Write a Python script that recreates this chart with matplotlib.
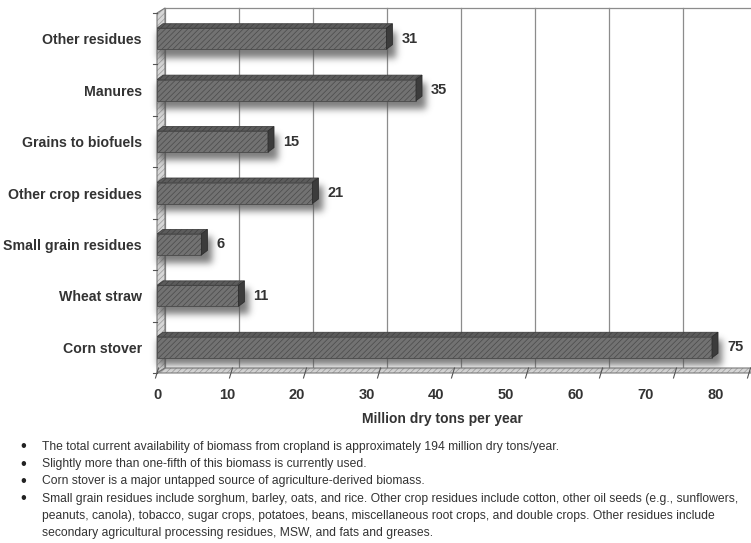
import numpy as np
import matplotlib.pyplot as plt
from matplotlib.patches import Polygon

# Biomass available from cropland, million dry tons per year
categories = ['Corn stover', 'Wheat straw', 'Small grain residues', 'Other crop residues',
              'Grains to biofuels', 'Manures', 'Other residues']
tons = [75, 11, 6, 21, 15, 35, 31]
ticks = [0, 10, 20, 30, 40, 50, 60, 70, 80]

notes = [
    ['The total current availability of biomass from cropland is approximately 194 million dry tons/year.'],
    ['Slightly more than one-fifth of this biomass is currently used.'],
    ['Corn stover is a major untapped source of agriculture-derived biomass.'],
    ['Small grain residues include sorghum, barley, oats, and rice. Other crop residues include cotton, '
     'other oil seeds (e.g., sunflowers,',
     'peanuts, canola), tobacco, sugar crops, potatoes, beans, miscellaneous root crops, and double crops. '
     'Other residues include',
     'secondary agricultural processing residues, MSW, and fats and greases.'],
]

plt.rcParams['font.family'] = ['Liberation Sans', 'DejaVu Sans']
plt.rcParams['hatch.linewidth'] = 0.5

W, H = 751, 543
fig = plt.figure(figsize=(W / 100, H / 100), dpi=100)
ax = fig.add_axes([157 / W, 170 / H, 594 / W, 360 / H])
xmax = 594 / 7.4
px = xmax / 594          # data units per pixel, x
py = 7 / 360             # data units per pixel, y

# depth of the walls and of the bars
dxw, dyw = 8 * px, 5 * py
dxb, dyb = 6 * px, 4.5 * py
bh = 21 * py
ypos = np.arange(len(categories))

# back wall with gridlines
for t in ticks:
    ax.plot([t + dxw, t + dxw], [-0.5 + dyw, 6.5 + dyw], color='#8c8c8c', lw=0.9,
            zorder=1, clip_on=False)
ax.plot([dxw, xmax + 1], [6.5 + dyw, 6.5 + dyw], color='#8c8c8c', lw=0.9, zorder=1, clip_on=False)

# side wall and floor
wall = [(0, -0.5), (0, 6.5), (dxw, 6.5 + dyw), (dxw, -0.5 + dyw)]
floor = [(0, -0.5), (xmax + 1, -0.5), (xmax + 1, -0.5 + dyw), (dxw, -0.5 + dyw)]
for pts in (wall, floor):
    ax.add_patch(Polygon(pts, closed=True, facecolor='#d6d6d6', edgecolor='none', zorder=1.2,
                         clip_on=False))
    ax.add_patch(Polygon(pts, closed=True, fill=False, hatch='//////', edgecolor='#9a9a9a', lw=0,
                         zorder=1.3, clip_on=False))
    ax.add_patch(Polygon(pts, closed=True, fill=False, edgecolor='#7a7a7a', lw=0.8, zorder=1.4,
                         clip_on=False))

# tick marks on the floor edge and category separators on the wall
for t in ticks:
    ax.plot([t + 1.5 * px, t - 1.5 * px], [-0.5 + dyw, -0.5 - 5 * py], color='#555555', lw=0.8,
            clip_on=False, zorder=1.5)
for k in range(len(categories) + 1):
    ax.plot([-4 * px, 0], [k - 0.5, k - 0.5], color='#555555', lw=0.8, clip_on=False, zorder=1.5)

# soft drop shadows under the bars
ox, oy, sig = 4 * px, 8 * py, 3.5
x0 = -12 * px
nx, ny = 594 + 12, 360
xs = np.linspace(x0, xmax, nx)
ys = np.linspace(-0.5, 6.5, ny)
X, Y = np.meshgrid(xs, ys)
mask = np.zeros_like(X)
for y, v in zip(ypos, tons):
    mask[(X >= ox - 3 * px) & (X <= v + dxb + ox) &
         (Y >= y - bh / 2 - oy) & (Y <= y + bh / 2 + dyb - oy)] = 1.0
k = np.arange(-12, 13)
kern = np.exp(-0.5 * (k / sig) ** 2)
kern /= kern.sum()
blur = np.apply_along_axis(lambda r: np.convolve(r, kern, mode='same'), 1, mask)
blur = np.apply_along_axis(lambda c: np.convolve(c, kern, mode='same'), 0, blur)
rgba = np.zeros((ny, nx, 4))
rgba[..., :3] = 0.32
rgba[..., 3] = 0.75 * blur
ax.imshow(rgba, extent=(x0, xmax, -0.5, 6.5), origin='lower', aspect='auto', zorder=1.6,
          interpolation='bilinear', clip_on=False)

# 3-D bars: front face, top face, right side
ax.barh(ypos, tons, height=bh, color='#727272', edgecolor='#4a4a4a', hatch='//////',
        lw=0.6, zorder=3)
for y, v in zip(ypos, tons):
    top = [(0, y + bh / 2), (v, y + bh / 2), (v + dxb, y + bh / 2 + dyb), (dxb, y + bh / 2 + dyb)]
    side = [(v, y - bh / 2), (v + dxb, y - bh / 2 + dyb), (v + dxb, y + bh / 2 + dyb), (v, y + bh / 2)]
    ax.add_patch(Polygon(top, closed=True, facecolor='#5c5c5c', edgecolor='#404040', lw=0.6,
                         hatch='//////', zorder=3.1))
    ax.add_patch(Polygon(side, closed=True, facecolor='#3c3c3c', edgecolor='#2e2e2e', lw=0.6,
                         zorder=3.1))
    ax.text(v + dxb + 9 * px, y, f'{v}', ha='left', va='center', fontsize=10.5,
            fontweight='bold', color='#333333', zorder=4)

ax.set_xlim(0, xmax)
ax.set_ylim(-0.5, 6.5)
for s in ax.spines.values():
    s.set_visible(False)

# tick labels follow the slanted floor, so they sit slightly left of their ticks
ax.set_xticks([t * 0.944 for t in ticks], [str(t) for t in ticks])
ax.set_yticks(ypos, categories)
ax.tick_params(axis='x', length=0, pad=11, labelsize=10.5, labelcolor='#333333')
ax.tick_params(axis='y', length=0, pad=11, labelsize=10.2, labelcolor='#333333')
for lab in ax.get_xticklabels() + ax.get_yticklabels():
    lab.set_fontweight('bold')
ax.set_xlabel('Million dry tons per year', fontsize=10, fontweight='bold', color='#333333')
ax.xaxis.set_label_coords((442 - 157) / 594, (373 - 412) / 360)

# notes under the chart
line_h = 17.2
row = 0
for note in notes:
    for j, line in enumerate(note):
        yy = 1 - (447 + row * line_h) / H
        if j == 0:
            fig.text(23 / W, yy, '\u2022', ha='center', va='center', fontsize=12, color='#222222')
        fig.text(42 / W, yy, line, ha='left', va='center', fontsize=8.7, color='#333333')
        row += 1

fig.savefig('out.png', dpi=100)
